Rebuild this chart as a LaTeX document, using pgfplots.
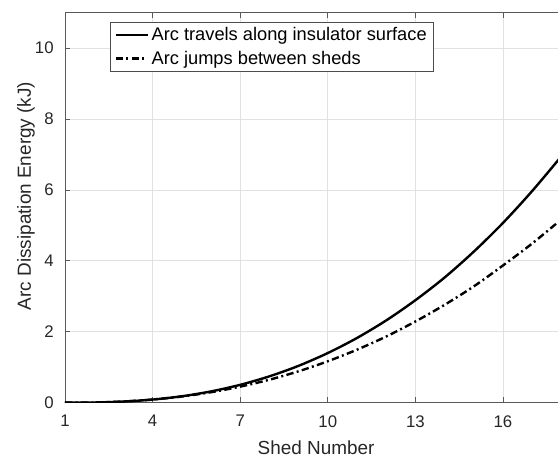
\documentclass[border=0pt]{standalone}
\usepackage{fontspec}
\setmainfont{Liberation Sans}
\usepackage{pgfplots}
\pgfplotsset{compat=1.18}
\definecolor{axgray}{RGB}{38,38,38}
\definecolor{gridgray}{RGB}{225,225,225}

% arc energy per shed (kJ)
\pgfplotstableread{
x   surface  jump
1   0.000    0.000
2   0.006    0.007
3   0.032    0.035
4   0.088    0.089
5   0.181    0.175
6   0.318    0.295
7   0.504    0.453
8   0.743    0.648
9   1.040    0.886
10  1.400    1.168
11  1.825    1.495
12  2.320    1.866
13  2.890    2.290
14  3.530    2.760
15  4.260    3.280
16  5.070    3.870
17  5.970    4.490
18  6.950    5.170
}\energy

\begin{document}
\begin{tikzpicture}
\useasboundingbox (-48.75pt,-41.25pt) rectangle (369.75pt,302.025pt);
\clip (-48.75pt,-41.25pt) rectangle (369.75pt,302.025pt);
\begin{axis}[
    at={(0,0)}, anchor=south west,
    width=376.65pt, height=292.5pt, scale only axis,
    xmin=1, xmax=18.2, ymin=0, ymax=11,
    xtick={1,4,7,10,13,16}, ytick={0,2,...,10},
    grid=major,
    major grid style={gridgray, line width=0.6pt},
    axis line style={black!65, line width=0.6pt},
    tick style={black!65, line width=0.6pt},
    major tick length=4pt,
    tick label style={font=\fontsize{12.6}{14}\selectfont, text=axgray},
    /pgf/number format/assume math mode=true,
    xticklabel style={yshift=-6pt},
    yticklabel style={xshift=-5pt},
    xlabel={Shed Number},
    ylabel={Arc Dissipation Energy (kJ)},
    every axis x label/.style={at={(rel axis cs:0.5,-0.1154)}, anchor=center,
        font=\fontsize{14.2}{16}\selectfont, text=axgray},
    every axis y label/.style={at={(rel axis cs:-0.0777,0.53)}, anchor=center,
        rotate=90, font=\fontsize{14.2}{16}\selectfont, text=axgray},
    legend style={at={(rel axis cs:0.0896,0.977)}, anchor=north west,
        draw=black!70, fill=white,
        font=\fontsize{13.7}{16}\selectfont, text=black,
        inner xsep=3pt, inner ysep=2pt, row sep=2.5pt,
        nodes={inner xsep=2pt}},
    legend cell align=left,
    legend image code/.code={\draw[#1, line width=2pt] (0pt,0pt) -- (24pt,0pt);},
]
\addplot[black, line width=1.8pt, smooth] table[x=x, y=surface] {\energy};
\addlegendentry{Arc travels along insulator surface}
\addplot[black, line width=1.8pt, smooth, dash pattern=on 5.5pt off 2.5pt on 1.5pt off 2.5pt] table[x=x, y=jump] {\energy};
\addlegendentry{Arc jumps between sheds}
\end{axis}
\end{tikzpicture}
\end{document}
